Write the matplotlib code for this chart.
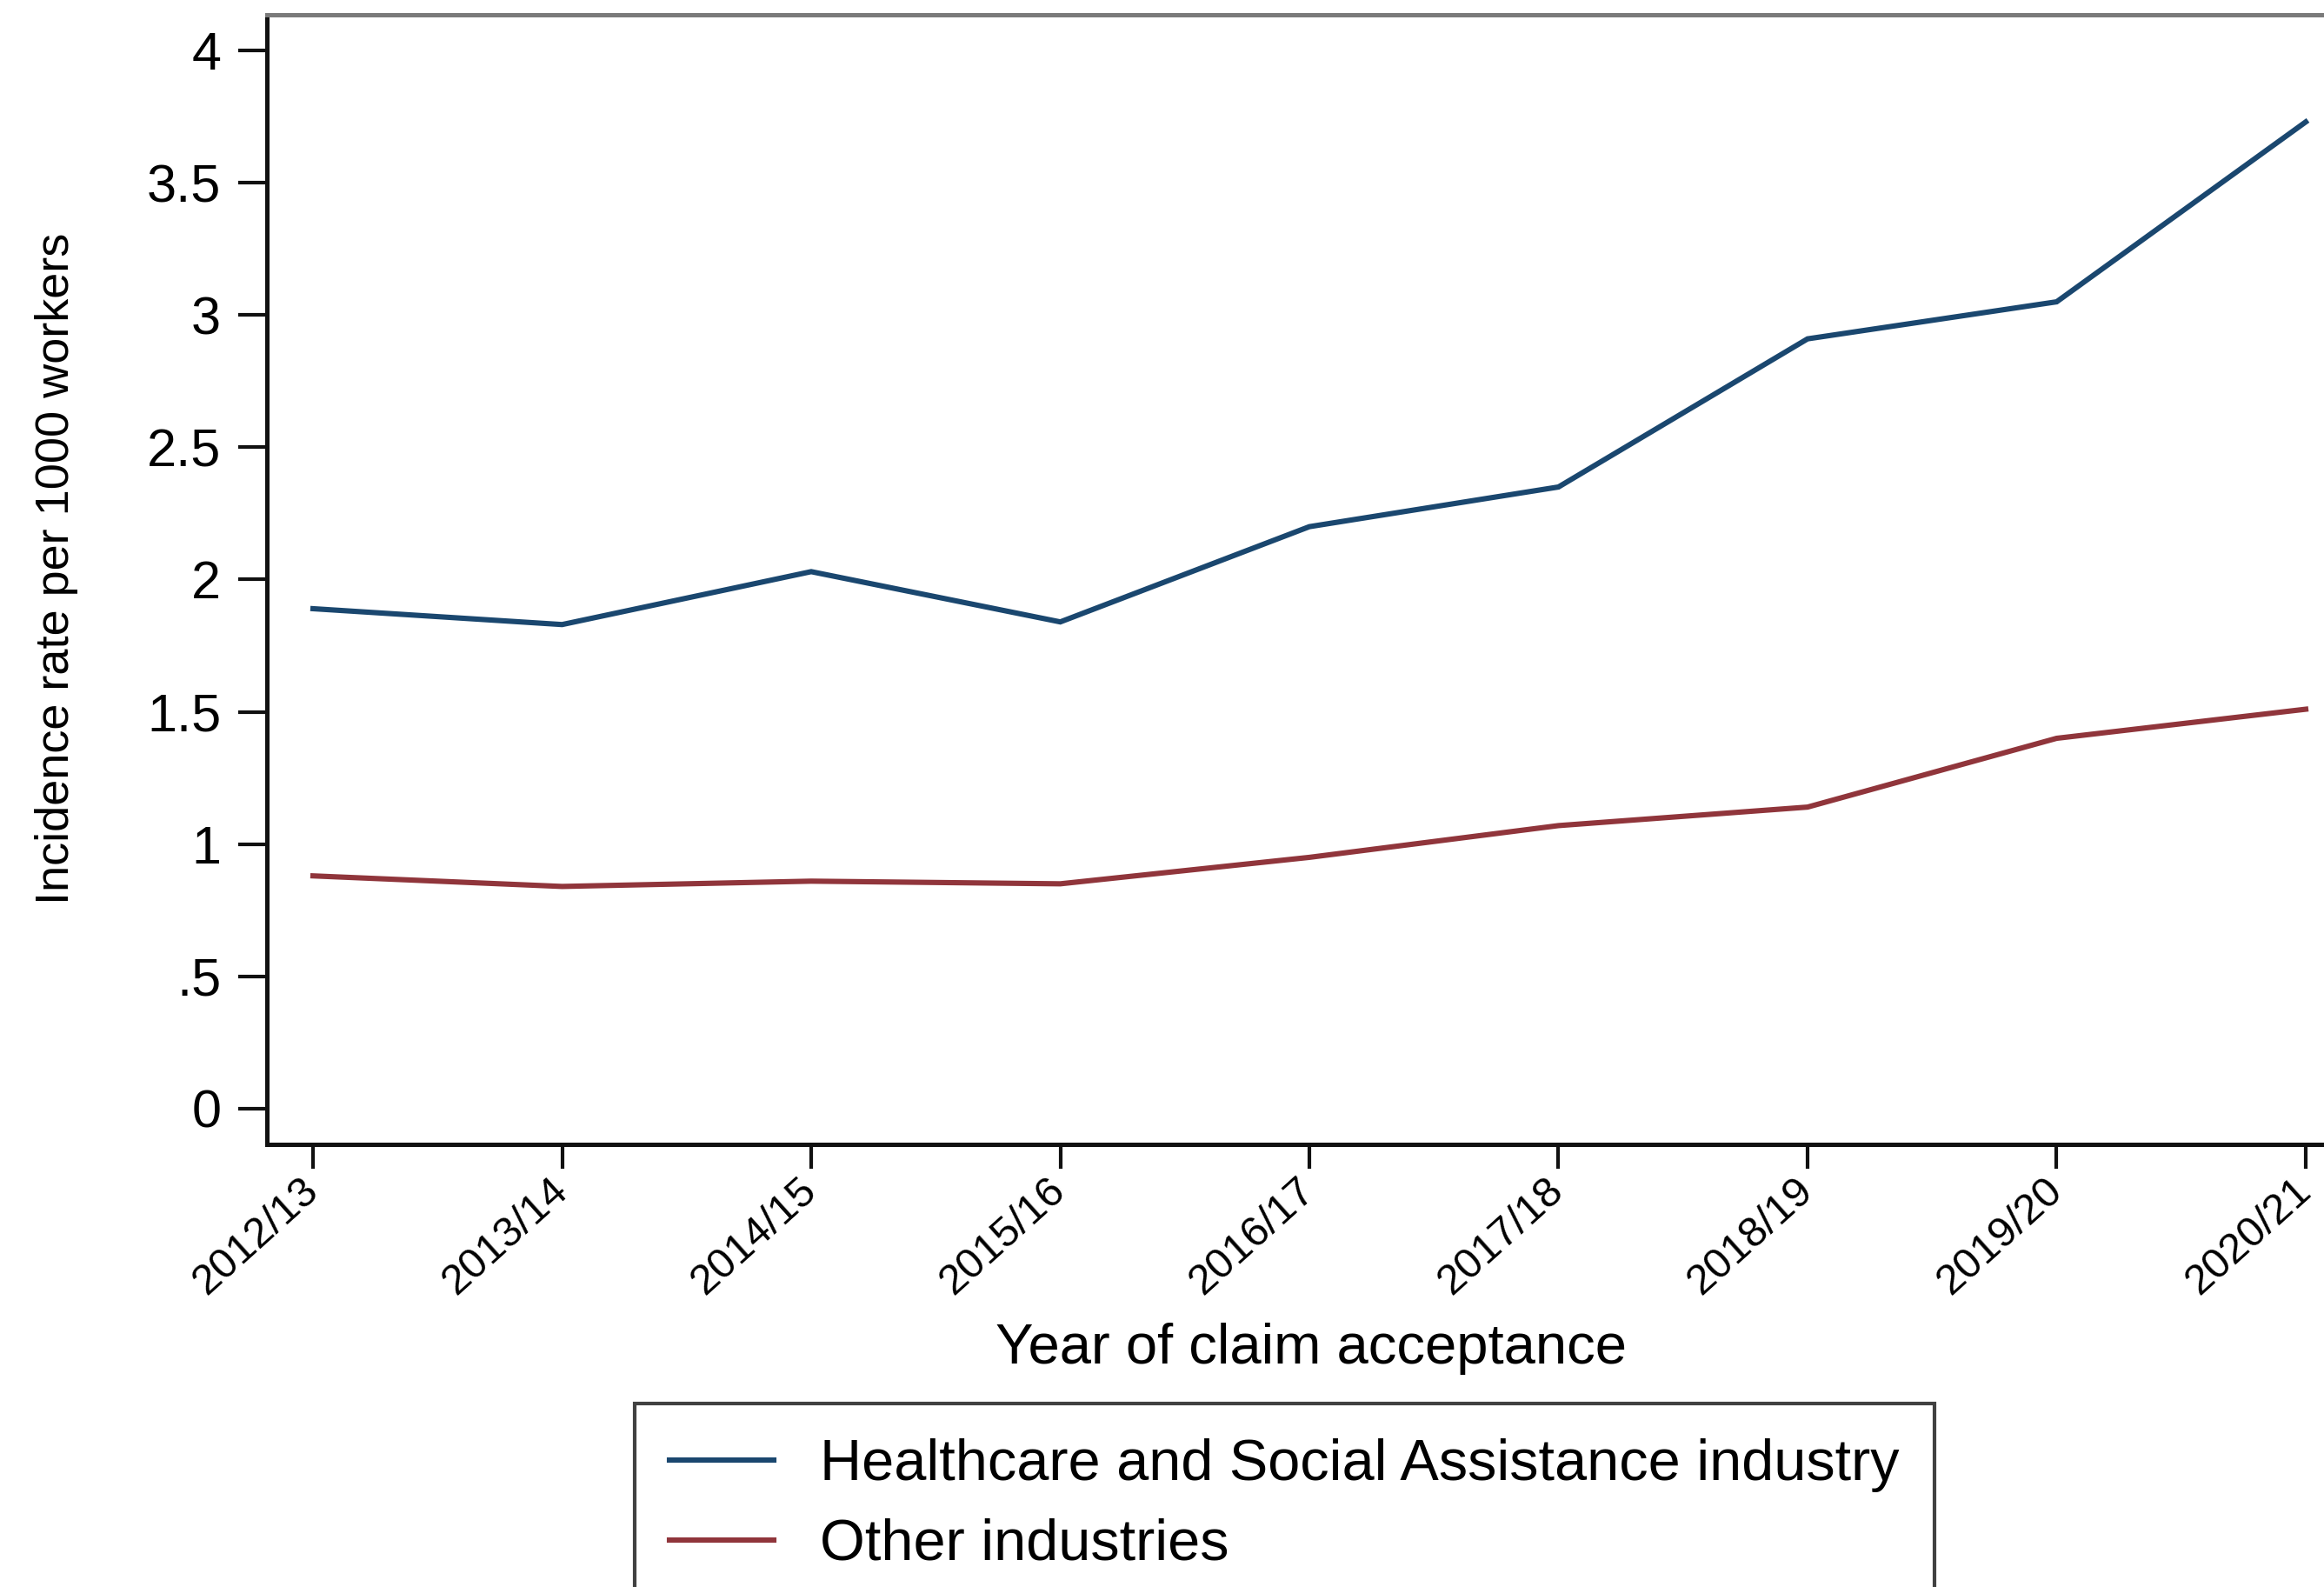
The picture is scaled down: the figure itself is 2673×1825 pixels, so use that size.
import matplotlib
matplotlib.use('Agg')
import matplotlib.pyplot as plt

plt.rcParams['font.family'] = ['Liberation Sans', 'DejaVu Sans']

# Incidence rates per 1000 workers by year of claim acceptance
years = ['2012/13', '2013/14', '2014/15', '2015/16', '2016/17',
         '2017/18', '2018/19', '2019/20', '2020/21']
healthcare = [1.89, 1.83, 2.03, 1.84, 2.20, 2.35, 2.91, 3.05, 3.73]
other = [0.88, 0.84, 0.86, 0.85, 0.95, 1.07, 1.14, 1.40, 1.51]

series_names = ['Healthcare and Social Assistance industry', 'Other industries']
series_colors = ['#1a476f', '#90353b']

yticks = [0, 0.5, 1, 1.5, 2, 2.5, 3, 3.5, 4]
ytick_labels = ['0', '.5', '1', '1.5', '2', '2.5', '3', '3.5', '4']

W, H, DPI = 2673, 1825, 100
fig = plt.figure(figsize=(W / DPI, H / DPI), dpi=DPI)

# plot area runs off the right-hand edge of the canvas
left_px, right_px, top_px, bottom_px = 307, 2705, 17, 1316
ax = fig.add_axes([left_px / W, 1 - bottom_px / H,
                   (right_px - left_px) / W, (bottom_px - top_px) / H])

x = list(range(len(years)))
ax.plot(x, healthcare, color=series_colors[0], lw=4.4, label=series_names[0],
        solid_joinstyle='miter')
ax.plot(x, other, color=series_colors[1], lw=4.4, label=series_names[1],
        solid_joinstyle='miter')

ax.set_xlim(-0.185, 8.185)
ax.set_ylim(-0.135, 4.135)

ax.set_yticks(yticks)
ax.set_yticklabels(ytick_labels)
ax.set_xticks(x)
ax.set_xticklabels(years, rotation=42, ha='right', va='center',
                   rotation_mode='anchor')

ax.tick_params(axis='y', length=24, width=3.0, pad=14, labelsize=44, color='#111111')
ax.tick_params(axis='x', length=20, width=3.0, pad=14, labelsize=35, color='#111111')

for s in ['left', 'bottom']:
    ax.spines[s].set_linewidth(3.6)
    ax.spines[s].set_color('#111111')
ax.spines['top'].set_linewidth(3.6)
ax.spines['top'].set_color('#7a7a7a')
ax.spines['right'].set_visible(False)

ax.set_xlabel('Year of claim acceptance', fontsize=47)
ax.xaxis.label.set_va('baseline')
ax.xaxis.set_label_coords(0.501, (bottom_px - 1568) / (bottom_px - top_px))

ax.set_ylabel('Incidence rate per 1000 workers', fontsize=39)
ax.yaxis.label.set_va('center')
ax.yaxis.set_label_coords((65 - left_px) / (right_px - left_px), 0.51)

leg = fig.legend(loc='upper left', bbox_to_anchor=(730 / W, 1 - 1614 / H),
                 borderaxespad=0, fontsize=48, frameon=True, fancybox=False,
                 edgecolor='#111111', handlelength=1.8, handletextpad=0.8,
                 borderpad=0.6, labelspacing=0.45)
leg.get_frame().set_linewidth(3.0)
for line in leg.get_lines():
    line.set_linewidth(4.4)

fig.savefig('out.png', dpi=DPI, facecolor='white')
